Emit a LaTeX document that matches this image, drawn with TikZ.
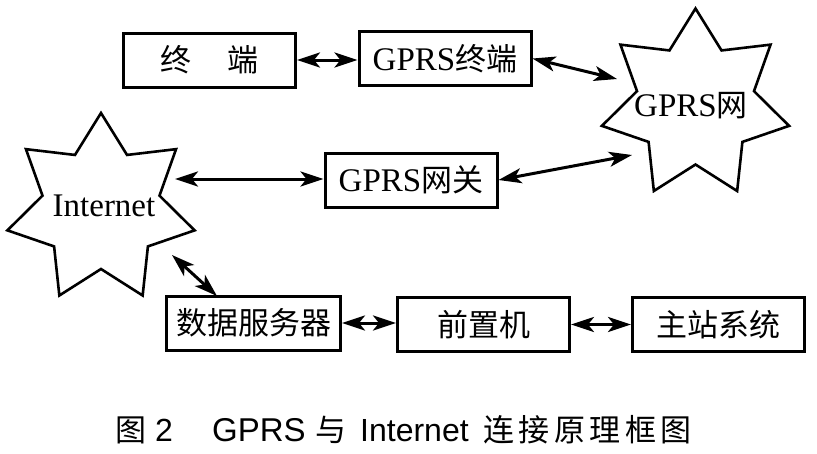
\documentclass[tikz,border=0pt]{standalone}
\usepackage{fontspec}
\setmainfont{Liberation Serif}
\newfontfamily\cjk{Noto Sans CJK SC}
\newfontfamily\capsans{Liberation Sans}
\usetikzlibrary{arrows.meta}
\begin{document}
\begin{tikzpicture}[x=1pt,y=-1pt,
  boxtext/.style={font=\fontsize{33}{36}\selectfont},
  box/.style={draw,line width=3pt,rectangle,inner sep=0pt,minimum width=172pt,minimum height=54pt,boxtext},
  starline/.style={line width=2.6pt,line join=miter},
  startext/.style={inner sep=0pt,boxtext},
  link/.style={line width=3pt,{Stealth[length=23pt,width=15pt,inset=6pt]}-{Stealth[length=23pt,width=15pt,inset=6pt]}},
  captext/.style={anchor=base west,inner sep=0pt,font=\capsans\fontsize{32}{34}\selectfont},
  capcjk/.style={anchor=base west,inner sep=0pt,font=\cjk\fontsize{31}{34}\selectfont}]
\useasboundingbox[fill=white] (0,0) rectangle (817,453);
% boxes
\node[box] (term)  at (209.5,60)  {{\cjk\fontsize{31}{34}\selectfont 终\hspace{36pt}端}};
\node[box] (gterm) at (445,58.5)  {GPRS{\cjk\fontsize{31}{34}\selectfont 终端}};
\node[box] (gw)    at (411,180)   {GPRS{\cjk\fontsize{31}{34}\selectfont 网关}};
\node[box,minimum width=174pt] (ds) at (253.5,323) {{\cjk\fontsize{31}{34}\selectfont 数据服务器}};
\node[box] (fp)    at (483.5,324.5) {{\cjk\fontsize{31}{34}\selectfont 前置机}};
\node[box] (zz)    at (718.5,324.5) {{\cjk\fontsize{31}{34}\selectfont 主站系统}};
% stars
\draw[starline] plot[samples at={0,...,13}]
  ({695.5+(mod(\x,2)==0?96:60)*cos(90+\x*360/14)},{104.5-(mod(\x,2)==0?96:60)*sin(90+\x*360/14)}) -- cycle;
\draw[starline] plot[samples at={0,...,13}]
  ({101+(mod(\x,2)==0?96:60)*cos(90+\x*360/14)},{209-(mod(\x,2)==0?96:60)*sin(90+\x*360/14)}) -- cycle;
\node[startext] (gnet) at (691,106) {GPRS{\cjk\fontsize{31}{34}\selectfont 网}};
\node[startext] (inet) at (104,206) {Internet};
% free ends
\coordinate (a1) at (617,79);
\coordinate (a2) at (632,155);
\coordinate (a3) at (175,179);
\coordinate (a4) at (172,255);
\coordinate (a5) at (217,296);
% connectors
\draw[link] (term.east) -- (term.east -| gterm.west);
\draw[link] (gterm.east) -- (a1);
\draw[link] (gw.east) -- (a2);
\draw[link] (a3) -- (a3 -| gw.west);
\draw[link] (a4) -- (a5);
\draw[link] (ds.east) -- (ds.east -| fp.west);
\draw[link] (fp.east) -- (fp.east -| zz.west);
% caption
\node[capcjk] (c1) at (115,441) {图};
\node[captext] (c2) at (155,441) {2};
\node[captext,font=\capsans\fontsize{33}{34}\selectfont] (c3) at (212,441) {GPRS};
\node[capcjk] (c4) at (315,441) {与};
\node[captext] (c5) at (360,441) {Internet};
\node[capcjk] (c6) at (483,441) {连\hspace{4.5pt}接\hspace{4.5pt}原\hspace{4.5pt}理\hspace{4.5pt}框\hspace{4.5pt}图};
\end{tikzpicture}
\end{document}
